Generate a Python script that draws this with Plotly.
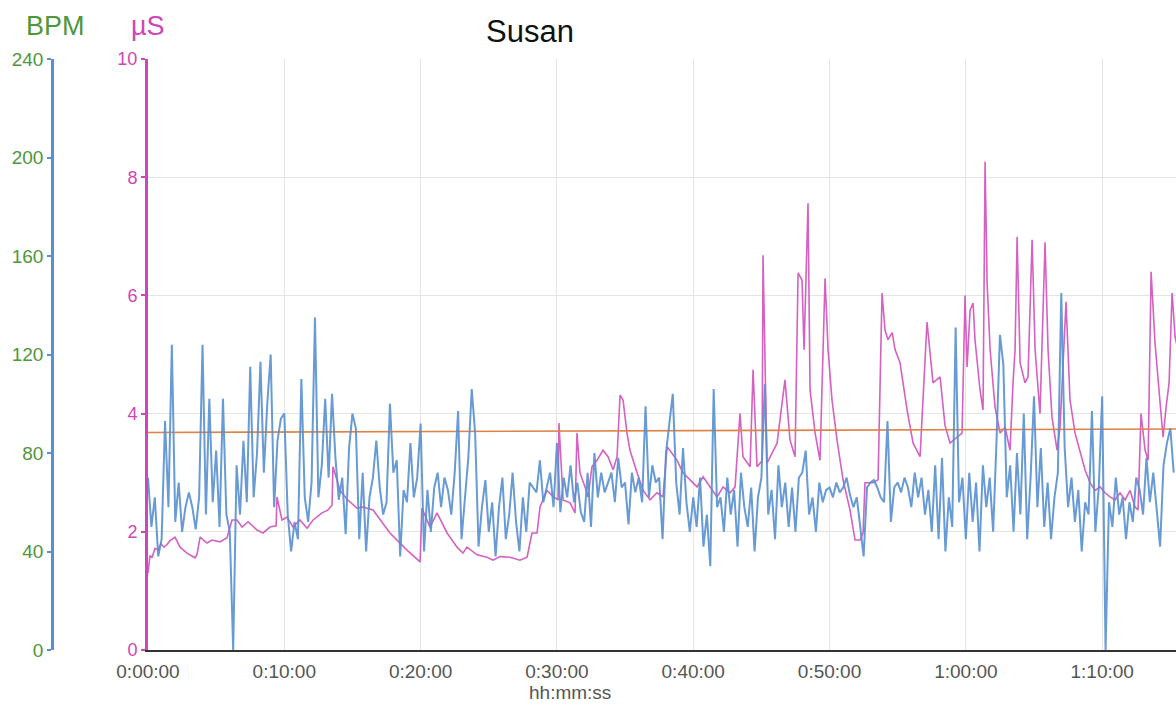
import plotly.graph_objects as go

# Heart rate (BPM), one sample every 15 s
bpm_step_s = 15
bpm = [
    70, 50, 62, 38,   45, 93, 58, 124,  52, 68, 48, 58,   64, 58, 49, 62,
    124, 55, 102, 60, 81, 50, 102, 55,  48, 0, 75, 55,    85, 60, 115, 62,
    80, 117, 72, 100, 120, 58, 85, 94,  96, 55, 40, 52,   45, 110, 62, 52,
    68, 135, 62, 75,  102, 70, 104, 78, 61, 70, 47, 82,   96, 90, 45, 72,
    40, 62, 70, 85,   66, 55, 60, 100,  72, 77, 38, 65,   60, 84, 62, 70,
    92, 40, 65, 48,   66, 72, 58, 70,   65, 55, 72, 97,   45, 62, 78, 106,
    88, 42, 58, 69,   48, 60, 38, 58,   70, 45, 55, 72,   52, 40, 62, 48,
    68, 66, 64, 77,   60, 66, 72, 58,   84, 56, 70, 62,   75, 60, 68, 56,
    52, 72, 50, 80,   62, 72, 64, 68,   72, 60, 78, 66,   68, 51, 72, 64,
    70, 60, 99, 62,   75, 68, 70, 45,   80, 92, 104, 68,  55, 82, 60, 48,
    62, 50, 70, 42,   55, 34, 106, 58,  62, 48, 70, 55,   65, 42, 72, 58,
    50, 66, 40, 62,   70, 108, 55, 65,  45, 75, 58, 68,   50, 66, 48, 70,
    72, 81, 55, 62,   48, 68, 60, 65,   66, 62, 68, 64,   66, 70, 63, 58,
    62, 50, 38, 66,   68, 69, 66, 62,   60, 93, 52, 66,   68, 64, 70, 66,
    58, 72, 62, 70,   55, 65, 48, 75,   45, 78, 40, 62,   50, 131, 60, 70,
    45, 72, 52, 68,   40, 75, 58, 70,   48, 85, 128, 116, 62, 75, 48, 80,
    55, 96, 45, 70,   103, 58, 82, 50,  68, 45, 62, 72,   145, 82, 58, 70,
    52, 65, 40, 60,   55, 97, 48, 66,   103, 0, 60, 50,   70, 55, 62, 45,
    60, 52, 70, 65,   55, 78, 60, 72,   58, 42, 75, 84,   90, 72,
]

# Skin conductance (µS) with its sample times in minutes
eda_min = [
    0.00, 0.15, 0.29, 0.51, 0.73, 0.95, 1.17, 1.39, 1.61, 1.98, 2.35, 2.86,
    3.45, 3.60, 3.82, 4.33, 4.70, 5.28, 5.80, 6.16, 6.53, 6.90, 7.34, 8.00,
    8.44, 8.95, 9.40, 9.46, 9.83, 10.20, 10.64, 11.15, 11.67, 12.11, 12.77, 13.21,
    13.50, 13.57, 14.09, 14.60, 15.33, 15.77, 16.51, 17.75, 19.00, 19.96, 20.10, 20.69,
    21.20, 21.94, 22.67, 23.11, 23.40, 24.14, 24.87, 25.31, 25.83, 26.56, 27.29, 27.81,
    28.17, 28.54, 28.76, 29.27, 29.71, 30.08, 30.15, 30.45, 30.96, 31.33, 31.47, 31.69,
    32.06, 32.28, 32.57, 32.94, 33.38, 33.75, 34.12, 34.41, 34.63, 34.85, 35.14, 35.36,
    35.88, 36.32, 36.83, 37.34, 37.78, 38.08, 38.44, 38.81, 39.25, 39.77, 40.28, 40.72,
    41.23, 41.75, 42.19, 42.70, 43.07, 43.43, 43.65, 44.17, 44.39, 44.68, 45.05, 45.12,
    45.41, 46.15, 46.73, 47.10, 47.47, 47.69, 47.98, 48.13, 48.42, 48.57, 48.94, 49.30,
    49.67, 49.89, 50.18, 50.55, 50.99, 51.50, 51.87, 52.24, 52.46, 52.60, 53.19, 53.56,
    53.85, 54.07, 54.29, 54.59, 54.81, 55.17, 55.69, 56.13, 56.64, 57.15, 57.59, 58.11,
    58.47, 58.84, 59.35, 59.72, 59.94, 60.09, 60.31, 60.53, 60.67, 61.04, 61.26, 61.41,
    61.56, 61.78, 62.14, 62.51, 62.88, 63.24, 63.46, 63.61, 63.76, 63.98, 64.34, 64.56,
    64.86, 65.08, 65.44, 65.81, 66.03, 66.32, 66.69, 66.91, 67.35, 67.64, 68.01, 68.38,
    68.74, 69.11, 69.48, 69.85, 70.21, 70.58, 70.95, 71.31, 71.68, 72.05, 72.41, 72.63,
    72.85, 73.15, 73.37, 73.59, 73.88, 74.25, 74.47, 74.69, 74.91, 75.13, 75.35, 75.72,
]
eda_us = [
    1.30, 1.60, 1.56, 1.72, 1.69, 1.80, 1.74, 1.78, 1.85, 1.91, 1.74, 1.64,
    1.56, 1.62, 1.91, 1.81, 1.86, 1.83, 1.90, 2.20, 2.20, 2.08, 2.17, 2.03,
    1.98, 2.08, 2.10, 2.59, 2.20, 2.25, 2.08, 2.20, 2.06, 2.20, 2.32, 2.37,
    2.45, 3.10, 2.70, 2.55, 2.40, 2.42, 2.37, 1.98, 1.69, 1.49, 2.40, 2.08,
    2.32, 1.98, 1.74, 1.64, 1.74, 1.61, 1.57, 1.52, 1.58, 1.57, 1.52, 1.57,
    1.98, 1.98, 2.42, 2.70, 2.60, 2.54, 3.84, 2.54, 2.49, 2.32, 3.67, 3.00,
    2.76, 2.59, 3.10, 3.21, 3.38, 3.27, 3.05, 3.27, 4.31, 4.23, 3.67, 3.38,
    3.00, 2.70, 2.54, 2.66, 2.59, 3.44, 3.33, 3.21, 3.00, 2.88, 2.76, 2.93,
    2.76, 2.59, 2.76, 2.66, 2.76, 4.00, 3.27, 3.10, 4.74, 3.10, 3.20, 6.68,
    3.16, 3.50, 4.57, 3.55, 3.27, 6.38, 6.26, 5.08, 7.56, 4.40, 3.67, 3.21,
    6.29, 5.08, 4.23, 3.55, 2.88, 2.37, 1.86, 1.86, 1.98, 2.83, 2.83, 2.88,
    6.04, 5.41, 5.25, 5.37, 5.08, 4.86, 4.06, 3.50, 3.27, 5.55, 4.52, 4.62,
    3.80, 3.50, 3.60, 3.67, 6.00, 4.79, 5.75, 5.87, 5.25, 4.40, 4.06, 8.26,
    6.20, 5.08, 4.11, 3.67, 3.77, 3.38, 4.52, 5.08, 6.99, 4.86, 4.52, 4.62,
    6.94, 5.08, 4.00, 6.90, 5.08, 3.94, 3.38, 3.77, 5.89, 4.23, 3.67, 3.33,
    3.05, 2.83, 2.70, 2.76, 2.66, 2.59, 2.54, 2.66, 2.54, 2.70, 2.42, 2.37,
    4.00, 3.38, 3.21, 6.40, 5.19, 4.18, 3.60, 4.11, 4.52, 6.04, 5.30, 4.90,
]

# Trend line on the µS scale (start / end)
trend_min = [0.0, 75.72]
trend_us = [3.68, 3.74]

x_ticks_min = [0, 10, 20, 30, 40, 50, 60, 70]
us_ticks = [0, 2, 4, 6, 8, 10]
bpm_ticks = [0, 40, 80, 120, 160, 200, 240]


def hms(seconds):
    h, rem = divmod(int(seconds), 3600)
    m, s = divmod(rem, 60)
    return f"{h}:{m:02d}:{s:02d}"


bpm_sec = [i * bpm_step_s for i in range(len(bpm))]
eda_sec = [m * 60 for m in eda_min]
trend_sec = [m * 60 for m in trend_min]
tick_sec = [m * 60 for m in x_ticks_min]

W, H = 1176, 706
M_TOP, M_BOT = 59, 56
plot_left = 148
FONT = "Liberation Sans, Arial, sans-serif"
BLUE = "rgb(88,144,208)"
MAGENTA = "rgb(206,70,184)"
GREEN = "rgb(80,150,60)"


def py(pixel_y):
    """pixel row -> paper y fraction"""
    return (H - M_BOT - pixel_y) / (H - M_TOP - M_BOT)


fig = go.Figure()
fig.add_trace(go.Scatter(
    x=bpm_sec, y=bpm, yaxis="y2", mode="lines",
    line=dict(color=BLUE, width=2), opacity=0.9, hoverinfo="skip",
))
fig.add_trace(go.Scatter(
    x=eda_sec, y=eda_us, yaxis="y", mode="lines",
    line=dict(color=MAGENTA, width=1.6), opacity=0.85, hoverinfo="skip",
))
fig.add_trace(go.Scatter(
    x=trend_sec, y=trend_us, yaxis="y", mode="lines",
    line=dict(color="rgb(222,130,70)", width=1.6), hoverinfo="skip",
))

fig.update_layout(
    width=W, height=H,
    margin=dict(l=0, r=0, t=M_TOP, b=M_BOT, autoexpand=False),
    paper_bgcolor="white", plot_bgcolor="white",
    showlegend=False,
    font=dict(family=FONT),
    xaxis=dict(
        domain=[plot_left / W, 1],
        range=[0, 4525],
        tickvals=tick_sec,
        ticktext=[hms(s) for s in tick_sec],
        tickfont=dict(size=19, color="#555"),
        ticklabelstandoff=3,
        showgrid=True, gridcolor="#e4e4e4", gridwidth=1,
        showline=True, linecolor="#333", linewidth=2,
        zeroline=False, ticks="", automargin=False,
    ),
    yaxis=dict(
        range=[0, 10],
        tickvals=us_ticks,
        tickfont=dict(size=18, color=MAGENTA),
        showgrid=True, gridcolor="#e4e4e4", gridwidth=1,
        showline=True, linecolor=MAGENTA, linewidth=3,
        ticks="outside", ticklen=4, tickcolor=MAGENTA, tickwidth=1.5,
        zeroline=False, anchor="x", side="left", automargin=False,
    ),
    yaxis2=dict(
        range=[0, 240],
        tickvals=bpm_ticks,
        tickfont=dict(size=19, color=GREEN),
        showgrid=False,
        showline=True, linecolor=BLUE, linewidth=2.5,
        ticks="outside", ticklen=4, tickcolor=BLUE, tickwidth=1.5,
        zeroline=False, overlaying="y", anchor="free",
        position=52 / W, side="left", automargin=False,
    ),
    annotations=[
        dict(text="Susan", x=530 / W, y=py(32), xref="paper", yref="paper",
             showarrow=False, font=dict(size=31, color="#111"),
             xanchor="center", yanchor="middle"),
        dict(text="BPM", x=55 / W, y=py(26), xref="paper", yref="paper",
             showarrow=False, font=dict(size=27, color=GREEN),
             xanchor="center", yanchor="middle"),
        dict(text="µS", x=148 / W, y=py(26), xref="paper", yref="paper",
             showarrow=False, font=dict(size=27, color=MAGENTA),
             xanchor="center", yanchor="middle"),
        dict(text="hh:mm:ss", x=570 / W, y=py(692), xref="paper", yref="paper",
             showarrow=False, font=dict(size=19, color="#555"),
             xanchor="center", yanchor="middle"),
    ],
)

fig.write_html("out.html")
